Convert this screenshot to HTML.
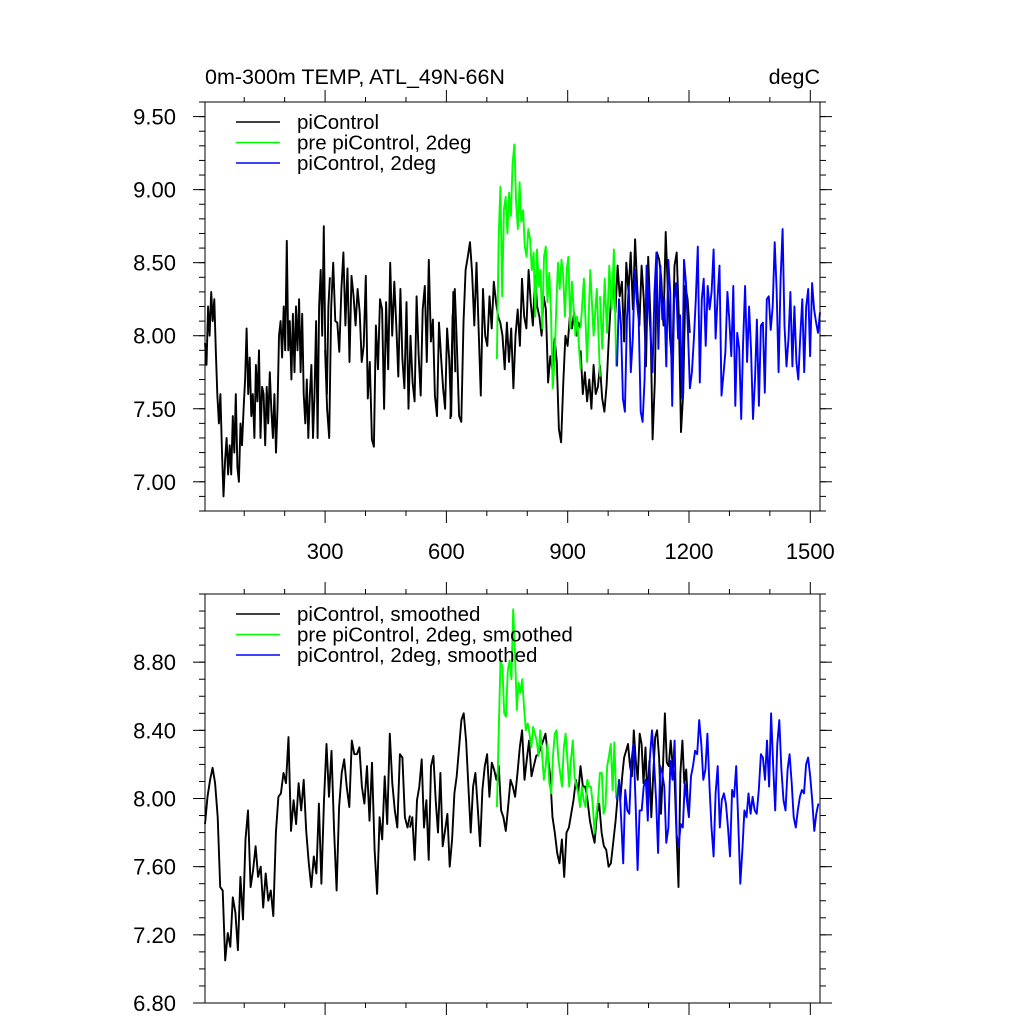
<!DOCTYPE html>
<html><head><meta charset="utf-8"><style>
html,body{margin:0;padding:0;background:#fff;}
svg{display:block;font-family:"Liberation Sans",Arial,sans-serif;}
</style></head><body>
<svg id="chart" width="1024" height="1024" viewBox="0 0 1024 1024" xmlns="http://www.w3.org/2000/svg">
<rect x="0" y="0" width="1024" height="1024" fill="#fff"/>
<text x="205" y="84" font-size="21.5">0m-300m TEMP, ATL_49N-66N</text>
<text x="820" y="84" font-size="21.5" text-anchor="end">degC</text>
<g id="top"></g>
<g id="bot"></g>
</svg>
<script>
// ---- data ----
const xTicks = [300, 600, 900, 1200, 1500];
const topYTicks = [7.00, 7.50, 8.00, 8.50, 9.00, 9.50];
const botYTicks = [6.80, 7.20, 7.60, 8.00, 8.40, 8.80];
const topLegend = ["piControl", "pre piControl, 2deg", "piControl, 2deg"];
const botLegend = ["piControl, smoothed", "pre piControl, 2deg, smoothed", "piControl, 2deg, smoothed"];

const blackRawA = [7.95,7.80,8.20,8.00,8.30,8.10,8.25,7.9,7.6,7.4,7.6,7.2,6.9,7.15,7.3,7.05,7.25,7.05,7.45,7.2,7.6,7.1,7.0,7.4,7.25,7.5,7.7,8.05,7.6,7.85,7.45,7.6,7.3,7.8,7.55,7.9,7.3,7.65,7.6,7.25,7.65,7.4,7.75,7.5,7.3,7.6,7.2,7.5,8.0,8.1,7.85,8.2,7.9,8.65,7.9,8.1,7.7,8.15,7.75,8.2,7.9,8.25,7.75,8.15,7.6,7.4,7.7,7.3,7.6,7.8,7.3,7.6,8.1,7.3,8.2,8.45,8.0,8.75,7.9,7.6,8.2,8.4];
const blackRawB = [7.9,7.5,7.3,8.2,8.5,8.1,8.09,7.89,8.32,8.57,8.07,8.46,7.82,8.41,8.27,8.07,8.32,8.16,7.82,7.93,8.41,7.57,7.82,7.29,7.24,8.07,7.77,8.25,8.18,7.5,8.23,7.77,8.5,8.0,8.37,8.07,7.72,8.32,7.84,7.64,8.23,7.5,8.0,7.68,7.55,8.27,7.86,7.59,8.18,8.34,7.82,8.52,7.96,8.11,7.59,7.45,8.09,7.86,7.64,7.5,8.05,7.84,7.45,8.3,7.75];
const blackRawC = [7.43,8.13,8.32,7.93,7.45,7.41,8.09,8.45,8.54,8.64,8.43,8.07,8.5,8.05,7.59,8.32,8.0,7.93,8.27,8.05,8.37,8.23,8.13,8.09,8.0,7.77,8.09,7.82,8.05,7.64,8.0,8.18,7.93,8.39,8.13,8.05,8.45,8.23,8.07,8.41,8.2,8.13,8.0,8.27,8.18,7.68,7.86,7.77,7.98,7.82,7.36,7.27,7.68,8.0,7.93,8.13,8.05,8.16,8.0,8.09,8.05];
const blackRawD = [7.9,7.6,7.75,7.55,7.7,7.5,7.8,7.6,7.65,7.8];
const blackRawE = [7.79,7.57,7.48,7.66,7.98,8.25,8.37,8.16,8.48,8.27,8.37,7.96,8.5,8.3,8.57,8.18,8.66,8.32,8.07,8.48,8.25,7.79,8.54,8.13,7.29,7.68,8.57,8.52,8.39,8.07,8.71,8.3,7.98,7.79,8.48,8.57,8.11,7.34,7.61,8.34,8.25,8.02];
const greenRawA = [7.84,8.68,9.02,8.27,8.86,8.95,8.7,8.98,8.82,9.18,9.31,8.91,8.73,9.05,8.78,8.86,8.61,8.54,8.73,8.66,8.45,8.57,8.13,8.59,8.34,8.45,8.05,8.54,8.61,8.23,8.43,8.16,7.64,7.82,8.18,8.5,8.32,8.52,8.41,8.13,8.45,8.54,8.05,8.37,8.18,8.0,8.13,7.93,7.77];
const greenRawB = [8.05,8.39,7.82,8.45,8.0,8.32,7.72];
const greenRawC = [8.27,7.91,8.39,8.02,8.48,8.18,8.59,7.79];
const blueRaw = [7.79,8.25,8.07,7.57,7.48,8.11,8.34,7.75,7.98,8.45,8.25,8.11,7.48,7.41,7.70,8.48,8.23,8.02,7.75,8.30,8.57,7.91,8.48,8.11,8.25,7.79,8.52,8.30,7.52,8.25,8.36,7.98,8.14,7.57,8.52,8.36,8.02,7.64,7.75,7.98,8.25,8.61,7.68,8.25,8.39,7.93,8.34,8.18,8.30,8.59,7.98,8.25,8.48,7.59,7.73,7.89,8.30,8.11,7.86,8.34,7.52,8.02,7.91,7.43,7.95,8.34,7.82,8.20,7.91,7.43,7.70,8.11,7.52,8.07,8.09,7.61,8.25,8.27,8.04,8.20,8.64,8.32,7.75,8.39,8.73,8.07,7.79,7.98,8.30,7.79,8.20,7.82,7.70,8.00,8.25,7.75,8.20,8.32,7.86,8.36,8.18,8.09,8.02,8.16];

const blackSmA = [7.85,8.01,8.11,8.18,8.09,7.89,7.48,7.46,7.05,7.21,7.13,7.42,7.33,7.11,7.54,7.29,7.76,7.93,7.48,7.58,7.72,7.54,7.60,7.36,7.56,7.40,7.46,7.31,7.80,8.01,8.03,8.15,8.09,8.36,7.81,7.99,7.85,8.09,7.93,8.11,7.81,7.62,7.48,7.66,7.56,7.97,7.50,7.99,8.32,8.01,8.28,7.81,7.46,7.95,8.15,8.23,8.07,7.95,8.34,8.26,8.26,8.30,8.07,7.97,8.19,7.87,8.21,7.70,7.44,7.89,7.76,8.13,7.85,8.38,8.09,7.93,7.83,8.26,8.24,7.89,7.83,7.90];
const blackSmB = [7.83,7.89,7.64,7.99,8.07,8.23,7.83,7.99,7.64,8.19,8.25,7.99,7.80,8.15,7.72,7.81,7.91,7.60,7.76,8.03,8.13,8.30,8.46,8.50,8.34,8.07,7.80,8.07,8.15,7.95,7.72,8.05,8.19,8.26,8.01,8.21,8.17,8.11,8.19,7.93,7.89,7.81,7.95,8.11,8.07,8.01,8.15,8.30,8.40,8.11,8.23,8.34,8.13,8.19,8.25,8.26,8.30,8.34,8.38,8.26,8.13,7.89,7.80,7.68,7.62,7.76,7.54,7.80,7.83,7.91,7.99,8.11,8.03,8.19,8.07,8.07,7.99,7.87,7.80,7.74,7.91,7.97,7.80,7.72,7.70,7.60,7.62,7.74,7.87,8.03,8.07];
const blackSmC = [7.99,8.13,8.24,8.28,8.32,8.19,8.13,8.40,8.22,8.11,8.38,8.32,8.09,8.30,7.99,8.22,7.89,8.15,8.36,8.40,8.24,7.91,8.19,8.50,8.21,8.19,8.34,8.19,8.11,7.79,7.48,8.15,8.34,8.09,8.17,7.93];
const greenSm = [7.95,8.38,8.81,8.77,8.50,8.48,8.75,8.81,8.70,9.11,8.85,8.52,8.68,8.62,8.70,8.54,8.40,8.44,8.38,8.30,8.42,8.38,8.34,8.25,8.40,8.26,8.11,8.19,8.32,8.09,8.03,8.25,8.38,8.40,8.23,8.15,8.07,8.30,8.38,8.23,8.07,8.23,8.34,8.13,8.07,8.03,7.95,8.07,7.99,7.95,8.11,8.07,8.07,7.97,7.80,7.91,7.99,8.15,8.15,7.91,7.95,8.19,8.25,8.32,8.05,8.33,8.0];
const blueSm = [7.99,8.11,7.89,7.62,8.05,7.93,7.91,8.22,8.32,7.99,7.58,7.93,7.93,8.07,8.11,7.87,8.24,8.40,8.22,7.99,7.68,8.19,8.15,8.07,7.74,7.83,8.22,8.11,8.34,7.79,7.72,7.85,7.83,8.09,7.99,7.89,8.13,8.19,8.28,8.26,8.46,8.32,8.11,8.17,8.38,8.07,7.83,7.66,8.03,8.19,7.83,7.99,8.03,7.97,7.83,7.66,8.05,8.01,8.19,7.87,7.50,7.70,7.93,7.89,8.03,7.91,8.01,7.93,7.91,8.05,8.26,8.24,8.11,8.34,8.07,8.50,8.19,7.93,8.32,8.46,8.17,7.99,7.93,8.17,8.26,8.09,7.89,7.83,7.93,8.01,8.05,8.03,8.20,8.24,8.13,7.99,7.81,7.91,7.97];

// segment year ranges
const topSegs = [
  {c:"#000", from:3, to:312, v:blackRawA},
  {c:"#000", from:300, to:622, v:blackRawB},
  {c:"#000", from:610, to:932, v:blackRawC},
  {c:"#000", from:932, to:980, v:blackRawD},
  {c:"#000", from:980, to:1202, v:blackRawE},
  {c:"#00ff00", from:725, to:932, v:greenRawA},
  {c:"#00ff00", from:932, to:980, v:greenRawB},
  {c:"#00ff00", from:980, to:1020, v:greenRawC},
  {c:"#0000ff", from:1022, to:1524, v:blueRaw}
];
const botSegs = [
  {c:"#000", from:3, to:510, v:blackSmA},
  {c:"#000", from:510, to:1030, v:blackSmB},
  {c:"#000", from:1030, to:1198, v:blackSmC},
  {c:"#00ff00", from:725, to:1020, v:greenSm},
  {c:"#0000ff", from:1022, to:1520, v:blueSm}
];

// ---- drawing ----
const NS = "http://www.w3.org/2000/svg";
const L = 205, R = 820, XMIN = 3, XMAX = 1524;
function sx(yr){ return L + (yr - XMIN) / (XMAX - XMIN) * (R - L); }
function mk(tag, attrs, parent){ const e = document.createElementNS(NS, tag); for (const k in attrs) e.setAttribute(k, attrs[k]); parent.appendChild(e); return e; }

function panel(g, top, bot, ymin, ymax, yTicks, segs, legend, showXLabels, minorStep){
  const sy = v => bot - (v - ymin) / (ymax - ymin) * (bot - top);
  const tk = {stroke:"#000","stroke-width":1};
  for (let v = ymin; v <= ymax + 1e-9; v += minorStep){
    const y = sy(v);
    if (y < top - 0.5 || y > bot + 0.5) continue;
    const t1 = mk("line", Object.assign({x1:L-6,x2:L,y1:y,y2:y}, tk), g);
    
    
    const t2 = mk("line", Object.assign({x1:R,x2:R+6,y1:y,y2:y}, tk), g);
    
    
  }
  yTicks.forEach(v => {
    const y = sy(v);
    const a = mk("line", Object.assign({x1:L-12,x2:L,y1:y,y2:y}, tk), g);
    
    
    const b = mk("line", Object.assign({x1:R,x2:R+12,y1:y,y2:y}, tk), g);
    
    
    const t = mk("text", {x:176, y:y+8, "font-size":22, "text-anchor":"end"}, g);
    t.textContent = v.toFixed(2);
    
    
  });
  for (let yr = 100; yr <= XMAX; yr += 100){
    const x = sx(yr), major = yr % 300 === 0, len = major ? 12 : 5;
    const a = mk("line", Object.assign({x1:x,x2:x,y1:top-len,y2:top}, tk), g);
    
    
    const b = mk("line", Object.assign({x1:x,x2:x,y1:bot,y2:bot+len}, tk), g);
    
    
  }
  if (showXLabels) xTicks.forEach(yr => {
    const t = mk("text", {x:sx(yr), y:bot+48, "font-size":22, "text-anchor":"middle"}, g);
    t.textContent = yr;
    
    
  });
  segs.forEach(s => {
    const n = s.v.length;
    const pts = s.v.map((v, i) => sx(s.from + (s.to - s.from) * i / (n - 1)).toFixed(1) + "," + sy(v).toFixed(1)).join(" ");
    const p = mk("polyline", {points:pts, fill:"none", stroke:s.c, "stroke-width":1.9, "stroke-linejoin":"round"}, g);
    
    
  });
  const f = mk("rect", {x:L, y:top, width:R-L, height:bot-top, fill:"none", stroke:"#000", "stroke-width":1}, g);
  
  
  const cols = ["#000", "#00ff00", "#0000ff"];
  legend.forEach((lab, i) => {
    const y = top + 20 + i * 20.5;
    const ln = mk("line", {x1:236, x2:280, y1:y, y2:y, stroke:cols[i], "stroke-width":1.5}, g);
    
    
    const t = mk("text", {x:297, y:y+7, "font-size":20.5}, g);
    t.textContent = lab;
    
    
  });
}
panel(document.getElementById("top"), 102, 511, 6.8, 9.6, topYTicks, topSegs, topLegend, true, 0.1);
panel(document.getElementById("bot"), 594, 1003, 6.8, 9.2, botYTicks, botSegs, botLegend, false, 0.1);
</script>
</body></html>
